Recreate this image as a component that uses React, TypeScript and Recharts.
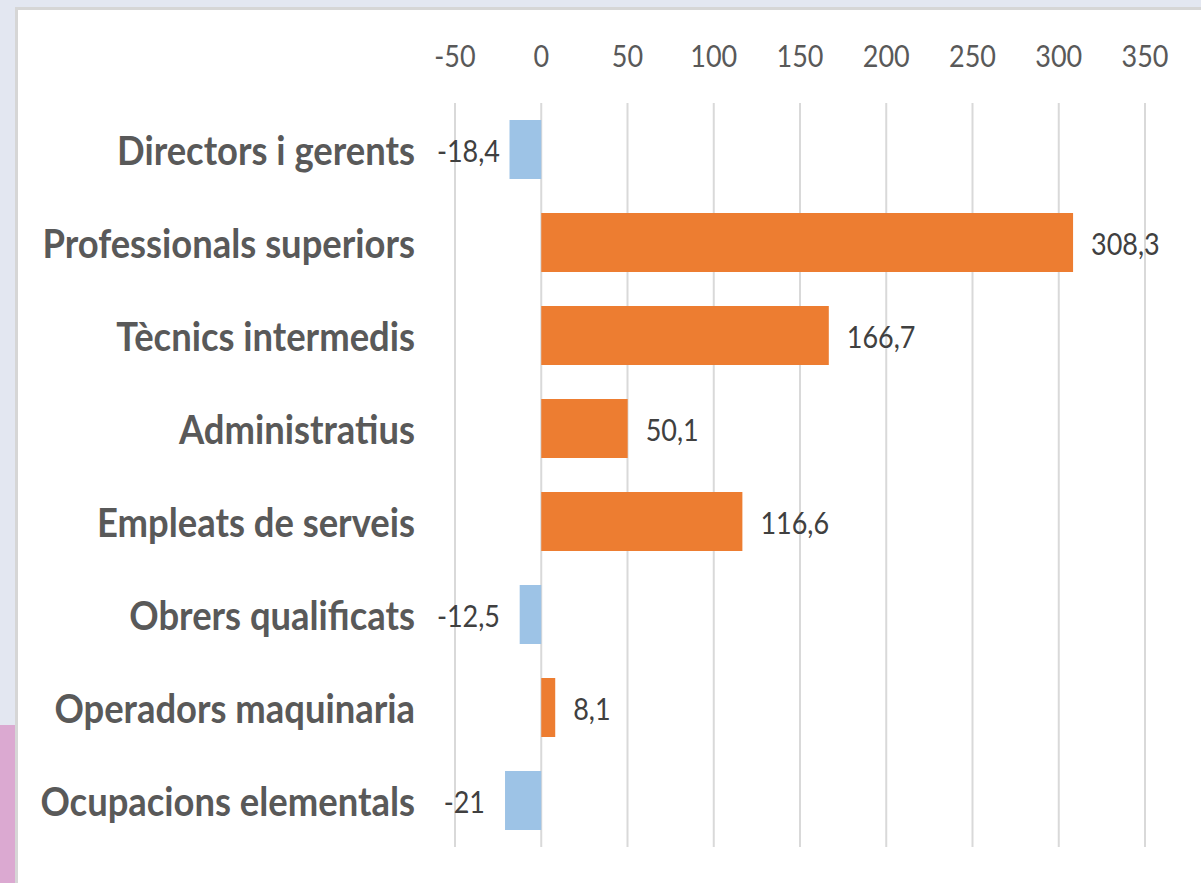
import { Bar, BarChart, CartesianGrid, Cell, LabelList, XAxis, YAxis } from "recharts";

const categories = [
  "Directors i gerents",
  "Professionals superiors",
  "Tècnics intermedis",
  "Administratius",
  "Empleats de serveis",
  "Obrers qualificats",
  "Operadors maquinaria",
  "Ocupacions elementals",
];
const values = [-18.4, 308.3, 166.7, 50.1, 116.6, -12.5, 8.1, -21];
const xTicks = [-50, 0, 50, 100, 150, 200, 250, 300, 350];

const data = categories.map((name, i) => ({ name, value: values[i] }));

const FONT = "Lato, 'Open Sans', sans-serif";
const SX_NUM = 0.87;
const SX_CAT = 0.91;
const PLOT_LEFT = 455;

const fmt = (v: number) => String(v).replace(".", ",");

function TopTick({ x, y, payload }: any) {
  return (
    <g transform={`translate(${x},${y}) scale(${SX_NUM},1)`}>
      <text textAnchor="middle" dominantBaseline="central" fontFamily={FONT} fontSize={31} fill="#595959">
        {payload.value}
      </text>
    </g>
  );
}

function CategoryTick({ x, y, payload }: any) {
  return (
    <g transform={`translate(${x},${y}) scale(${SX_CAT},1)`}>
      <text textAnchor="end" dominantBaseline="central" fontFamily={FONT} fontSize={40} fontWeight={700} fill="#595959">
        {payload.value}
      </text>
    </g>
  );
}

function ValueLabel({ x, y, width, height, value }: any) {
  const left = Math.min(x, x + width);
  const right = Math.max(x, x + width);
  const cy = y + height / 2;
  const text = fmt(value);
  if (value >= 0) {
    return (
      <g transform={`translate(${right + 18},${cy}) scale(${SX_NUM},1)`}>
        <text textAnchor="start" dominantBaseline="central" fontFamily={FONT} fontSize={31} fill="#404040">
          {text}
        </text>
      </g>
    );
  }
  // keep label inside the plot area like Excel does
  const w = text.length * 12.6;
  const end = Math.max(left - 20, PLOT_LEFT - 18 + w);
  return (
    <g transform={`translate(${end},${cy}) scale(${SX_NUM},1)`}>
      <text textAnchor="end" dominantBaseline="central" fontFamily={FONT} fontSize={31} fill="#404040">
        {text}
      </text>
    </g>
  );
}

export default function App() {
  return (
    <div style={{ position: "absolute", left: 0, top: 0, width: 1201, height: 883, background: "#e3e7f1", overflow: "hidden" }}>
      <div style={{ position: "absolute", left: 0, top: 725, width: 15, height: 158, background: "#dba9d1" }} />
      <div
        style={{
          position: "absolute",
          left: 15,
          top: 7,
          width: 1200,
          height: 900,
          background: "#ffffff",
          borderLeft: "3px solid #d6d6d6",
          borderTop: "3px solid #d6d6d6",
        }}
      />
      <div style={{ position: "absolute", left: 0, top: 0 }}>
        <BarChart
          width={1201}
          height={883}
          data={data}
          layout="vertical"
          barSize={59}
          margin={{ top: 43, right: 56, bottom: 36, left: 15 }}
        >
          <CartesianGrid horizontal={false} stroke="#d9d9d9" strokeWidth={2} />
          <XAxis
            type="number"
            orientation="top"
            domain={[-50, 350]}
            ticks={xTicks}
            height={60}
            axisLine={false}
            tickLine={false}
            tickSize={0}
            tickMargin={48}
            tick={<TopTick />}
            interval={0}
          />
          <YAxis
            type="category"
            dataKey="name"
            width={440}
            axisLine={false}
            tickLine={false}
            tickSize={0}
            tickMargin={40}
            tick={<CategoryTick />}
            interval={0}
          />
          <Bar dataKey="value" isAnimationActive={false}>
            {data.map((d, i) => (
              <Cell key={i} fill={d.value < 0 ? "#9dc3e6" : "#ed7d31"} />
            ))}
            <LabelList dataKey="value" content={<ValueLabel />} />
          </Bar>
        </BarChart>
      </div>
    </div>
  );
}
